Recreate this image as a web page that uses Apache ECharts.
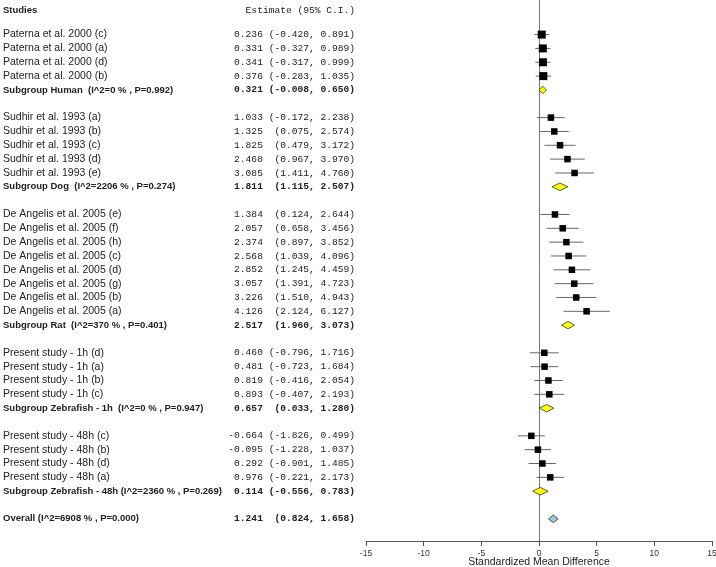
<!DOCTYPE html>
<html>
<head>
<meta charset="utf-8">
<script src="https://cdn.jsdelivr.net/npm/echarts@6/dist/echarts.min.js"></script>
<style>
  html, body { margin: 0; padding: 0; background: #fff; }
  #chart { width: 716px; height: 567px; }
</style>
</head>
<body>
<div id="chart"></div>
<script>
// rows of the forest plot, top to bottom
var labels = [
    'Paterna et al. 2000 (c)', 'Paterna et al. 2000 (a)', 'Paterna et al. 2000 (d)', 'Paterna et al. 2000 (b)',
    'Subgroup Human  (I^2=0 % , P=0.992)',
    'Sudhir et al. 1993 (a)', 'Sudhir et al. 1993 (b)', 'Sudhir et al. 1993 (c)', 'Sudhir et al. 1993 (d)', 'Sudhir et al. 1993 (e)',
    'Subgroup Dog  (I^2=2206 % , P=0.274)',
    'De Angelis et al. 2005 (e)', 'De Angelis et al. 2005 (f)', 'De Angelis et al. 2005 (h)', 'De Angelis et al. 2005 (c)',
    'De Angelis et al. 2005 (d)', 'De Angelis et al. 2005 (g)', 'De Angelis et al. 2005 (b)', 'De Angelis et al. 2005 (a)',
    'Subgroup Rat  (I^2=370 % , P=0.401)',
    'Present study - 1h (d)', 'Present study - 1h (a)', 'Present study - 1h (b)', 'Present study - 1h (c)',
    'Subgroup Zebrafish - 1h  (I^2=0 % , P=0.947)',
    'Present study - 48h (c)', 'Present study - 48h (b)', 'Present study - 48h (d)', 'Present study - 48h (a)',
    'Subgroup Zebrafish - 48h (I^2=2360 % , P=0.269)',
    'Overall (I^2=6908 % , P=0.000)'
];
var estimates = [
    0.236, 0.331, 0.341, 0.376, 0.321,
    1.033, 1.325, 1.825, 2.468, 3.085, 1.811,
    1.384, 2.057, 2.374, 2.568, 2.852, 3.057, 3.226, 4.126, 2.517,
    0.460, 0.481, 0.819, 0.893, 0.657,
    -0.664, -0.095, 0.292, 0.976, 0.114,
    1.241
];
var lowers = [
    -0.420, -0.327, -0.317, -0.283, -0.008,
    -0.172, 0.075, 0.479, 0.967, 1.411, 1.115,
    0.124, 0.658, 0.897, 1.039, 1.245, 1.391, 1.510, 2.124, 1.960,
    -0.796, -0.723, -0.416, -0.407, 0.033,
    -1.826, -1.228, -0.901, -0.221, -0.556,
    0.824
];
var uppers = [
    0.891, 0.989, 0.999, 1.035, 0.650,
    2.238, 2.574, 3.172, 3.970, 4.760, 2.507,
    2.644, 3.456, 3.852, 4.096, 4.459, 4.723, 4.943, 6.127, 3.073,
    1.716, 1.684, 2.054, 2.193, 1.280,
    0.499, 1.037, 1.485, 2.173, 0.783,
    1.658
];
// s = study, g = subgroup summary, o = overall
var kinds = [
    's', 's', 's', 's', 'g',
    's', 's', 's', 's', 's', 'g',
    's', 's', 's', 's', 's', 's', 's', 's', 'g',
    's', 's', 's', 's', 'g',
    's', 's', 's', 's', 'g',
    'o'
];
var xTicks = [-15, 15, 5]; // min, max, step

// build row positions: a blank row after each subgroup
var rowData = [];
var row = 2;
var groupNo = 0;
for (var i = 0; i < labels.length; i++) {
    rowData.push([estimates[i], lowers[i], uppers[i], row, i, groupNo]);
    row++;
    if (kinds[i] !== 's') { row++; groupNo++; }
}

function fmt(v) { return v.toFixed(3); }
function estText(i) {
    var inner = '(' + fmt(lowers[i]);
    while (inner.length < 7) inner = ' ' + inner;
    return fmt(estimates[i]) + ' ' + inner + ', ' + fmt(uppers[i]) + ')';
}

var sansFont = 'Liberation Sans, Arial, sans-serif';
var monoFont = 'Liberation Mono, Courier New, monospace';

function renderRow(params, api) {
    var idx = api.value(4);
    var kind = kinds[idx];
    var bold = kind !== 's';
    var y = api.coord([0, api.value(3)])[1];
    var pEst = api.coord([api.value(0), api.value(3)]);
    var pLo = api.coord([api.value(1), api.value(3)]);
    var pHi = api.coord([api.value(2), api.value(3)]);
    var children = [
        {
            type: 'text',
            style: {
                text: labels[idx], x: 3, y: y,
                align: 'left', verticalAlign: 'middle',
                font: bold ? 'bold 9.5px ' + sansFont : '10.5px ' + sansFont,
                fill: '#222'
            }
        },
        {
            type: 'text',
            style: {
                text: estText(idx), x: 355, y: y,
                align: 'right', verticalAlign: 'middle',
                font: (bold ? 'bold ' : '') + '9.6px ' + monoFont,
                fill: '#222'
            }
        }
    ];
    if (kind === 's') {
        var sz = api.value(5) === 0 ? 8 : 6.5;
        children.push({
            type: 'line',
            shape: { x1: pLo[0], y1: y, x2: pHi[0], y2: y },
            style: { stroke: '#666', lineWidth: 1 }
        });
        children.push({
            type: 'rect',
            shape: { x: pEst[0] - sz / 2, y: y - sz / 2, width: sz, height: sz },
            style: { fill: '#000' }
        });
    } else {
        var h = 3.8;
        children.push({
            type: 'polygon',
            shape: { points: [[pLo[0], y], [pEst[0], y - h], [pHi[0], y], [pEst[0], y + h]] },
            style: {
                fill: kind === 'o' ? '#9ecae1' : '#ffff00',
                stroke: '#333', lineWidth: 0.8
            }
        });
    }
    return { type: 'group', children: children };
}

var chart = echarts.init(document.getElementById('chart'));
var option = {
    animation: false,
    backgroundColor: '#fff',
    grid: { left: 366, right: 4, top: 0, bottom: 26, outerBoundsMode: 'none', containLabel: false },
    graphic: [
        {
            type: 'text', left: 3, top: 5,
            style: { text: 'Studies', font: 'bold 9.5px ' + sansFont, fill: '#222' }
        },
        {
            type: 'text', right: 716 - 355, top: 5,
            style: { text: 'Estimate (95% C.I.)', font: '9.6px ' + monoFont, fill: '#222' }
        }
    ],
    xAxis: {
        type: 'value',
        min: xTicks[0], max: xTicks[1], interval: xTicks[2],
        axisLine: { show: true, onZero: false, lineStyle: { color: '#555', width: 1 } },
        axisTick: { show: true, length: 5, lineStyle: { color: '#555' } },
        axisLabel: { fontSize: 8.5, color: '#333', margin: 8, fontFamily: sansFont },
        splitLine: { show: false },
        name: 'Standardized Mean Difference',
        nameLocation: 'middle',
        nameGap: 16,
        nameMoveOverlap: false,
        nameTextStyle: { fontSize: 10.5, color: '#222', fontFamily: sansFont }
    },
    yAxis: {
        type: 'value',
        inverse: true,
        min: -0.5, max: 38.6,
        axisLine: { show: true, onZero: true, lineStyle: { color: '#777', width: 1 } },
        axisTick: { show: false },
        axisLabel: { show: false },
        splitLine: { show: false }
    },
    series: [{
        type: 'custom',
        renderItem: renderRow,
        encode: { x: [0, 1, 2], y: 3 },
        data: rowData,
        clip: false
    }]
};
chart.setOption(option);
</script>
</body>
</html>
